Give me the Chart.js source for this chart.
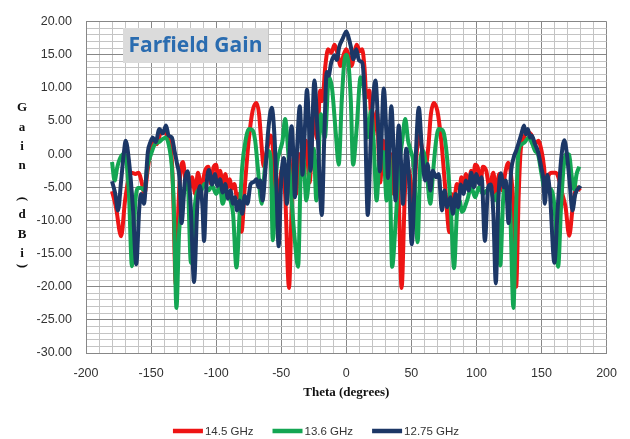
<!DOCTYPE html>
<html>
<head>
<meta charset="utf-8">
<script src="https://cdn.jsdelivr.net/npm/chart.js@4.4.1/dist/chart.umd.min.js"></script>
<style>
	html, body { margin: 0; padding: 0; background: #fff; }
	canvas { display: block; background: #fff; }
</style>
</head>
<body>
<canvas id="gainChart" width="630" height="439"></canvas>
<script>
'use strict'

// series (theta in degrees, gain in dBi)
const seriesNames = ['14.5 GHz', '13.6 GHz', '12.75 GHz']
const seriesColors = ['#ee1414', '#14a653', '#1c3766']

const redTheta = [-180, -177, -173, -170, -167.5, -165, -162, -159.5, -157.5, -155, -153, -150.5, -148, -145.5, -143, -140, -137, -134.5, -133, -131, -129, -127, -125.5, -123.5, -121, -118.5, -116, -114, -111.5, -108.5, -106, -104, -102, -100, -98.5, -97, -95, -93, -91, -89.5, -88, -86, -84, -82.5, -80.5, -78, -75, -72, -69, -67, -65, -63.5, -61, -58, -56, -53.5, -51, -49, -47, -44, -42, -40.5, -38.5, -36.5, -34, -31, -28.2, -25, -22.5, -20, -18.5, -16, -14, -11.5, -9, -6.5, -4.4, -2, 0, 2, 4, 6.5, 8, 10.5, 12.2, 14, 15.5, 17.7, 20, 23.5, 26, 28.5, 31, 34, 36.5, 39, 40.5, 42.5, 45, 47, 49.5, 51.5, 54, 56, 58.5, 61, 63, 65, 67.2, 70, 73, 76, 79.3, 81, 83, 85, 87, 88.5, 90, 92, 94, 96, 97.5, 99, 101, 103, 105, 107.5, 110, 113, 115, 117.5, 120, 122, 124.5, 126.5, 128.5, 130.5, 132.5, 134, 136.5, 139.5, 142, 145, 147.5, 150, 152, 153.5, 155.5, 158, 161, 163, 166, 168.5, 171.3, 174, 177, 180]
const redGain = [-5.6, -8, -12.4, -7, -4, -2.8, -3, -2.8, -4, -6, -3, 0.5, 2, 1.5, 3, 3.3, 2.5, 0.5, -6, -19.8, -8, -2, -1.2, -4, -5.5, -3.5, -6, -2.8, -5, -2.5, -1.9, -4.5, -2, -1.6, -3.8, -2.5, -4.5, -3, -5, -3.8, -5.2, -4.5, -6.5, -6, -11.7, -5, 2, 6.5, 7.7, 6, 1, -1.8, 0.5, 2.8, 0, -8, -4, -2, -6, -20.2, -8, -0.5, -6, 0, -2, 2, -4.3, 6.5, 2.3, 9.6, 8, 13.5, 15.8, 15.3, 16.5, 15, 13.3, 15, 15.8, 14.8, 13.3, 15.5, 16.5, 15.5, 15.8, 13, 8.5, 9.6, 2.3, 6.5, -4.3, 2, -2, 0, -6, -0.5, -8, -20.2, -6, -2, -4, -8, 0, 2.8, 0.5, -1.8, 1, 6, 7.7, 6.5, 2, -5, -11.8, -6, -6.5, -4.5, -5.2, -3.5, -5.5, -3, -4.5, -2.5, -3.8, -1.6, -2, -4.5, -1.9, -2.5, -5, -2.8, -6, -3, -5.5, -3, -1.3, -3, -8, -20, -6, 0.5, 2.5, 3.3, 3, 1.5, 2, 0.5, -2, -5.5, -3.2, -2.8, -2.8, -3.5, -6, -8, -12.3, -8, -5, -5.5]

const greenTheta = [-180, -178, -176, -174, -171, -169, -167, -164.7, -162, -160, -157.6, -155, -153, -150, -147, -144, -141, -138.5, -136, -134, -132.5, -130.5, -128.5, -126.5, -124, -122, -119.4, -116.5, -114, -111.8, -109, -106, -103, -100, -97, -95, -92, -89, -87, -84.4, -82, -80, -77, -75, -72, -70, -68, -65, -62.5, -60, -58, -56.5, -53.5, -51, -49, -47, -44.5, -42, -40, -37, -35, -33.2, -30.7, -27.5, -25, -23, -19.5, -16.5, -13.3, -11, -8, -5.8, -3.5, -1.5, 0, 1.5, 3.5, 5.2, 8, 11, 13.5, 16.5, 19, 21, 23.3, 25.5, 28.6, 31, 33, 35.2, 38, 40.5, 43, 45.3, 47.5, 49.5, 52, 54.8, 57, 59, 61.5, 64.5, 67, 69, 71, 74, 76, 78.5, 80.5, 82.8, 85, 87, 89, 93, 96, 99, 102, 105, 108, 111, 113.5, 115.8, 118.3, 120.5, 122, 124, 126, 128.4, 130.5, 132.3, 135, 137.2, 140, 143, 145, 147.4, 150, 152, 155, 157, 160, 162.8, 165, 167, 169, 171.3, 173, 175, 177, 179]
const greenGain = [-1.2, -4, -2, -0.7, 0, -1, -6, -16.9, -7, -5.1, -5.1, -5.5, -2, 0, 1.5, 1.8, 2.3, 2.5, 1, -2, -8, -23.2, -12, -8, -5, -4.1, -16.4, -8, -5.5, -5.6, -4.5, -5.5, -4.8, -6, -5, -7.5, -5.5, -7, -9, -17.1, -9, -2, 2.5, 3.8, 3.6, 2, -2, -7.5, -2, 0.5, -1, -13, -2, 0.5, 2, 5.3, 0, -7, -12, -17, -3, -0.1, -7, -1, 0.8, -7, 6, 2.5, 11.6, 10, 3, -1.6, 8, 14, 15, 14, 8, -1.6, 4, 11.6, 10, 2.5, 6.5, 2, -7, -1, 0.3, -7, -0.1, -17, -10, -2, 2, 5.3, 2, 0.5, -2, -13.3, -1, 0.5, -2, -7.5, -2, 2, 3.8, 3.6, 2, -3, -9, -17.2, -9, -7, -8.7, -6.9, -5, -6.5, -5, -6, -5.5, -5.3, -7, -6, -16.8, -7, -4.5, -5.5, -9, -23.2, -8, 0.3, 1.5, 1.8, 2.5, 1.5, 0.5, -0.1, -3, -5, -5.5, -5.3, -8, -17, -8, -2, 0, -0.1, -3, -5.3, -3, -1.9]

const blueTheta = [-180, -177.5, -175.4, -173, -171, -169.5, -167, -164, -161.4, -159, -157.6, -155.5, -152.5, -150.5, -148.7, -146.5, -143.6, -141, -138.5, -136.5, -134, -132, -130, -128, -126.6, -124, -122, -119.5, -117, -114.5, -112.4, -110.5, -109.3, -107.5, -105.5, -103, -101, -99, -97, -95, -93, -91, -89, -87, -85.5, -84, -82, -80, -78, -76, -73.5, -71, -69, -67.5, -66, -64.4, -62, -60, -57.3, -55, -53.5, -52, -50, -48.2, -47, -45.7, -44, -42, -40.5, -39.5, -38, -35.7, -34.5, -33.7, -32, -30.2, -28.8, -27.5, -24.5, -22, -18.8, -17, -15, -13.6, -11.6, -9, -7.3, -5.4, -3, -1.5, 0, 1.5, 3.5, 5.5, 7.6, 9.8, 12.2, 14, 16.5, 19, 22.4, 24.5, 25.8, 28.8, 31, 32, 34.6, 36.5, 37.8, 40.3, 42, 43.5, 46.1, 48, 50.3, 53, 55.7, 58, 60.5, 62.5, 64.5, 66.5, 69, 71, 73.5, 75.5, 77.5, 80, 82, 84, 86, 88, 90, 92, 94, 96, 98, 100, 102, 104, 106.5, 109, 111, 113, 114.9, 116.8, 118.7, 121, 122.5, 124.7, 126.5, 128.5, 130.5, 132.3, 134.5, 136.6, 138, 139.6, 141, 142.5, 145, 147.4, 149.9, 151.5, 152.5, 154.5, 156.5, 159.9, 162.5, 165, 167.5, 169.5, 171.5, 173.8, 176, 180]
const blueGain = [-4.1, -6, -8.5, -4, 0, 2, -1, -8, -16.6, -8, -6, -7.5, 0.3, 1.8, 2.5, 1.8, 3.8, 3.1, 4.3, 2.8, 2.5, 0.5, -1.5, -4, -10.4, -4, -2.6, -8, -19.3, -8, -4.8, -8, -13.1, -5, -2.4, -4.6, -3, -4.8, -3.8, -5.8, -4.5, -6.7, -5.5, -7.5, -6.5, -8.5, -7, -9, -6.3, -7.5, -4.5, -4.2, -3.8, -5, -4, -7, -2, 3.5, 7, 2, -6, -13.9, -4, -0.6, -2, -7.5, -1, 4.2, -1, -6.5, 0, 7.2, 2, -3.1, 3, 9.7, 5, -2.5, 11.1, 3, -9.2, 2, 12.4, 11.8, 13.8, 14.9, 14.2, 16.2, 17.3, 18, 18.5, 17.8, 16.2, 14.3, 15.8, 14.1, 13.8, 9, -9.2, 3, 11.1, 4, -2.6, 9.9, 2, -3.6, 7.2, 0, -7, 4.3, -1, -7.5, 0.8, -3, -13.6, -2, 7, 1, -4, -1.5, -5.5, -2.5, -3.5, -3, -8.5, -5.5, -8, -6.5, -9, -6, -8, -4.6, -6, -4, -5.5, -2.8, -5, -3, -4.5, -3.5, -13.1, -5, -4.6, -9, -19.5, -7, -2.9, -5, -4, -10.4, -3, -0.6, 0.5, 1.6, 3, 4.3, 3, 3.8, 2.5, 2.8, 1.5, 0.3, -2.1, -4, -7.5, -3.1, -6, -16.4, -8, -1, 2.1, 0, -4, -8.5, -6, -4.8]

const chartTitle = 'Farfield Gain'
const xTitle = 'Theta (degrees)'
const yTitleChars = ['G', 'a', 'i', 'n', '(', 'd', 'B', 'i', ')']

const majorGrid = '#878787'
const minorGrid = '#c4c4c4'

function toPoints(xs, ys) {
	return xs.map((x, i) => ({ x: x, y: ys[i] }))
}

const decorations = {
	id: 'decorations',
	beforeDatasetsDraw(chart) {
		const ctx = chart.ctx
		ctx.save()
		ctx.fillStyle = '#dbdbdb'
		ctx.fillRect(123, 28, 145, 35)
		ctx.fillStyle = '#2a6cb0'
		ctx.font = 'bold 21px "Open Sans"'
		ctx.textAlign = 'center'
		ctx.textBaseline = 'middle'
		ctx.fillText(chartTitle, 195.5, 46)
		ctx.restore()
	},
	afterDraw(chart) {
		const ctx = chart.ctx
		ctx.save()
		// stacked y axis title
		const ys = [108, 128, 147, 166, 199, 215, 235, 254, 266]
		ctx.fillStyle = '#111'
		ctx.font = 'bold 13px "Liberation Serif"'
		ctx.textAlign = 'center'
		ctx.textBaseline = 'middle'
		yTitleChars.forEach((c, i) => {
			ctx.save()
			ctx.translate(22, ys[i])
			if (c === '(' || c === ')') ctx.rotate(Math.PI / 2)
			ctx.fillText(c, 0, 0)
			ctx.restore()
		})
		// legend
		ctx.font = '11.5px "Liberation Sans"'
		ctx.textAlign = 'left'
		const lineW = 30, gap = 2, spacing = 19
		let widths = seriesNames.map(n => ctx.measureText(n).width)
		let total = widths.reduce((a, b) => a + b, 0) + seriesNames.length * (lineW + gap) + spacing * (seriesNames.length - 1)
		let x = 316 - total / 2
		const y = 431
		seriesNames.forEach((n, i) => {
			ctx.strokeStyle = seriesColors[i]
			ctx.lineWidth = 4.5
			ctx.beginPath()
			ctx.moveTo(x, y)
			ctx.lineTo(x + lineW, y)
			ctx.stroke()
			ctx.fillStyle = '#333'
			ctx.fillText(n, x + lineW + gap, y + 1)
			x += lineW + gap + widths[i] + spacing
		})
		ctx.restore()
	}
}

let gainChart = new Chart(document.getElementById('gainChart'), {
	type: 'line',
	data: {
		datasets: [
			{
				label: seriesNames[0],
				data: toPoints(redTheta, redGain),
				borderColor: seriesColors[0],
				order: 2,
			},
			{
				label: seriesNames[1],
				data: toPoints(greenTheta, greenGain),
				borderColor: seriesColors[1],
				order: 1,
			},
			{
				label: seriesNames[2],
				data: toPoints(blueTheta, blueGain),
				borderColor: seriesColors[2],
				order: 0,
			},
		],
	},
	options: {
		responsive: false,
		animation: false,
		layout: {
			padding: { top: 13, right: 19, left: 0, bottom: 0 },
		},
		elements: {
			point: { radius: 0 },
			line: { borderWidth: 4, cubicInterpolationMode: 'monotone', fill: false },
		},
		plugins: {
			legend: { display: false },
			tooltip: { enabled: false },
		},
		scales: {
			x: {
				type: 'linear',
				min: -200,
				max: 200,
				afterFit: (s) => { s.height = 86 },
				ticks: {
					stepSize: 10,
					autoSkip: false,
					maxRotation: 0,
					padding: 13,
					color: '#333',
					font: { family: 'Liberation Sans', size: 12.5 },
					callback: (v) => Math.round(v) % 50 === 0 ? String(Math.round(v)) : '',
				},
				grid: {
					drawTicks: false,
					color: (c) => c.tick && Math.round(c.tick.value) % 50 === 0 ? majorGrid : minorGrid,
				},
				border: { color: majorGrid },
				title: {
					display: true,
					text: xTitle,
					color: '#111',
					font: { family: 'Liberation Serif', size: 13, weight: 'bold' },
					padding: { top: 0, bottom: 39 },
				},
			},
			y: {
				min: -30,
				max: 20,
				afterFit: (s) => { s.width = 86 },
				ticks: {
					stepSize: 1,
					autoSkip: false,
					padding: 14,
					color: '#333',
					font: { family: 'Liberation Sans', size: 12.5 },
					callback: (v) => Math.round(v) % 5 === 0 ? v.toFixed(2) : '',
				},
				grid: {
					drawTicks: false,
					color: (c) => c.tick && Math.round(c.tick.value) % 5 === 0 ? majorGrid : minorGrid,
				},
				border: { color: majorGrid },
			},
		},
	},
	plugins: [decorations],
})
</script>
</body>
</html>
